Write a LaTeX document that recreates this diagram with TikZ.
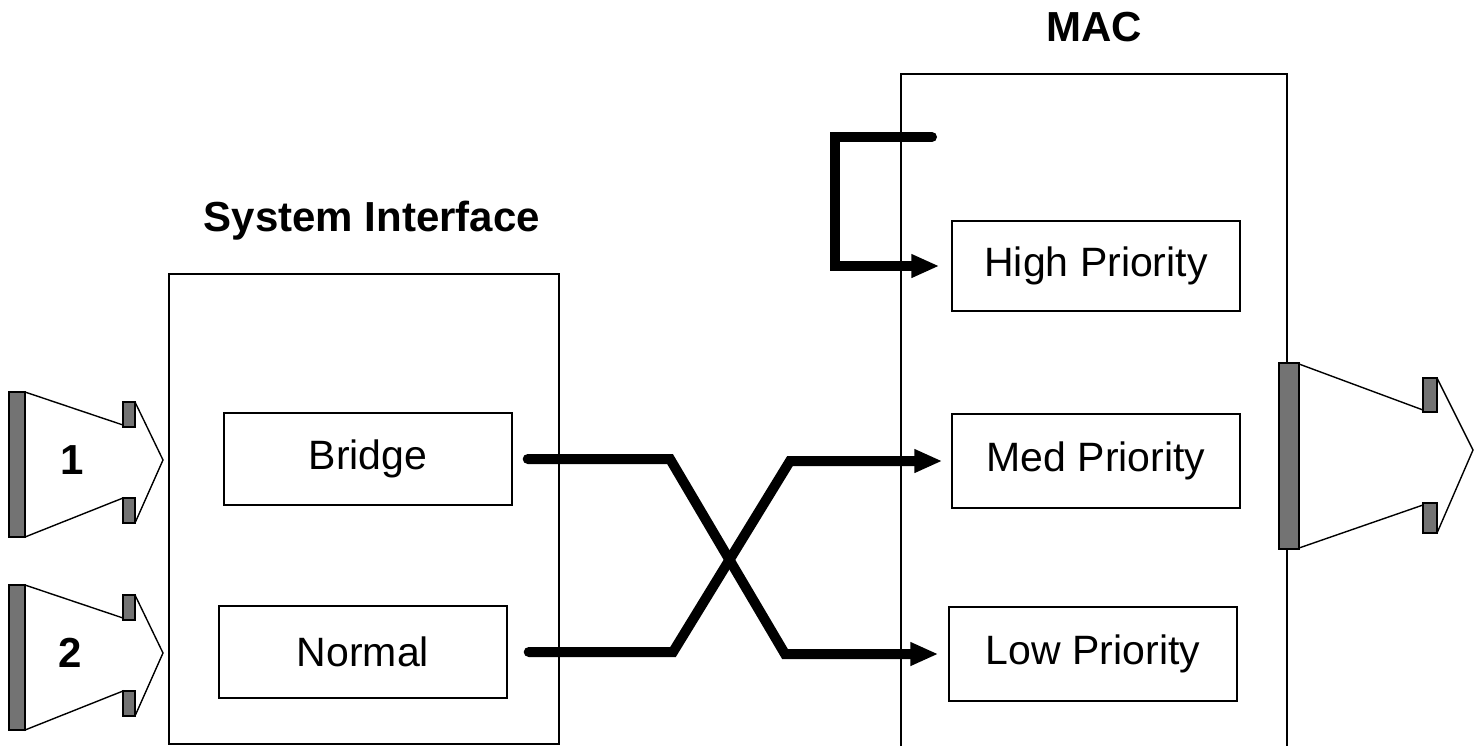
\documentclass[tikz,border=0pt]{standalone}
\usepackage{fontspec}
\setmainfont{Liberation Sans}
\usetikzlibrary{arrows.meta}

\begin{document}
\begin{tikzpicture}[
  x=0.5pt, y=-0.5pt,
  line width=0.7pt,
  box/.style={draw, minimum width=144pt, minimum height=46pt, inner sep=0pt, font=\fontsize{20.5}{24}\selectfont},
  title/.style={font=\fontsize{21}{25}\selectfont\bfseries},
  flow/.style={line width=5pt, line cap=round, -{Triangle[length=14pt,width=11pt]}},
  bar/.style={draw, fill=black!55},
  port/.style={draw, fill=white}
]
  \useasboundingbox (0,0) rectangle (1482,746);

  % System Interface
  \node[draw, minimum width=195pt, minimum height=235pt] (sysif) at (364,509) {};
  \node[title] (sysiflbl) at (372,221) {System Interface};
  \node[box] (bridge) at (368,459) {Bridge};
  \node[box] (normal) at (363,652) {Normal};

  % MAC (open at the bottom)
  \draw (901,746) -- (901,74) -- (1287,74) -- (1287,363);
  \draw (1287,549) -- (1287,746);
  \node[title] (maclbl) at (1094,27) {MAC};
  \node[box, minimum height=45pt] (high) at (1096,266) {High Priority};
  \node[box, minimum height=47pt] (med) at (1096,461) {Med Priority};
  \node[box, minimum height=47pt] (low) at (1093,654) {Low Priority};

  % crossing
  \coordinate (bk1) at (670,459); \coordinate (bk2) at (785,654);
  \coordinate (nk1) at (673,652); \coordinate (nk2) at (790,461);
  \draw[flow] ([xshift=7.5pt]bridge.east) -- (bk1) -- (bk2) -- ([xshift=-5pt]low.west);
  \draw[flow] ([xshift=10.5pt]normal.east) -- (nk1) -- (nk2) -- ([xshift=-4.5pt]med.west);

  % loop back into High Priority
  \coordinate (lp) at (932,137); \coordinate (lpc) at (835,137);
  \draw[flow] (lp) -- (lpc) |- ([xshift=-6pt]high.west);

  % port 1
  \draw[port] (25,392) -- (123,425) -- (123,402) -- (135,402) -- (163,460) -- (135,523) -- (123,523) -- (123,498) -- (25,537) -- cycle;
  \draw[bar] (123,402) rectangle (135,427);
  \draw[bar] (123,498) rectangle (135,523);
  \draw[bar] (9,392) rectangle (25,537);
  \node[title] (in1) at (72,460) {1};

  % port 2
  \draw[port] (25,585) -- (123,618) -- (123,595) -- (135,595) -- (163,653) -- (135,716) -- (123,716) -- (123,691) -- (25,730) -- cycle;
  \draw[bar] (123,595) rectangle (135,620);
  \draw[bar] (123,691) rectangle (135,716);
  \draw[bar] (9,585) rectangle (25,730);
  \node[title] (in2) at (70,653) {2};

  % output port
  \draw[port] (1299,364) -- (1423,410) -- (1423,378) -- (1437,378) -- (1473,450) -- (1437,533) -- (1423,533) -- (1423,505) -- (1299,548) -- cycle;
  \draw[bar] (1423,378) rectangle (1437,412);
  \draw[bar] (1423,503) rectangle (1437,533);
  \draw[bar] (1279,363) rectangle (1299,549);
\end{tikzpicture}
\end{document}
